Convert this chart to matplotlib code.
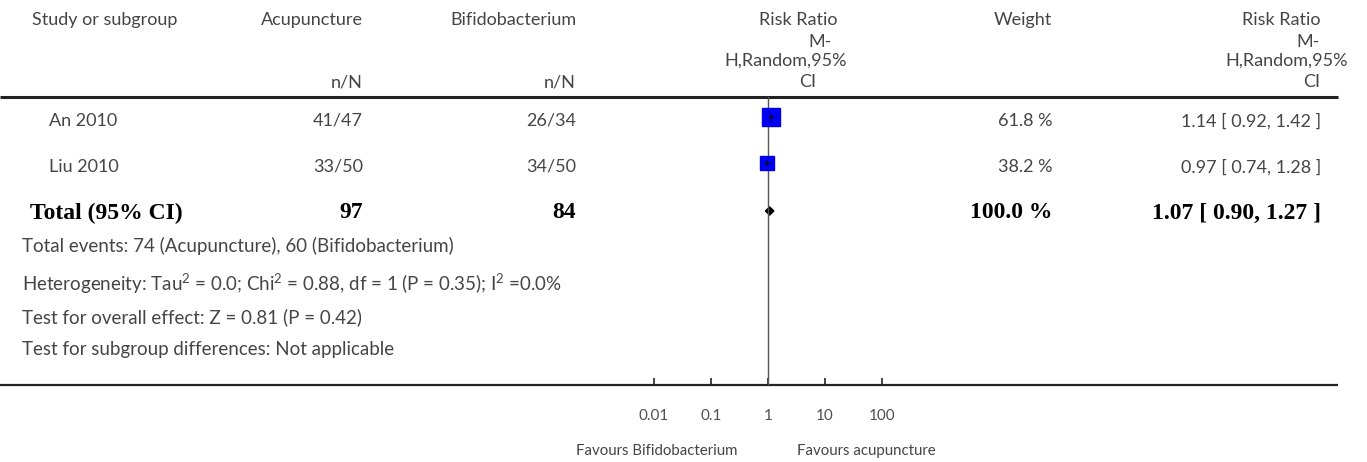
import matplotlib
matplotlib.use('Agg')
import matplotlib.pyplot as plt
import numpy as np

plt.rcParams['mathtext.fontset'] = 'custom'
plt.rcParams['mathtext.rm'] = 'Lato'
plt.rcParams['mathtext.default'] = 'rm'

# ---- data ----
studies = ['An 2010', 'Liu 2010']
acu_events = [41, 33]
acu_total = [47, 50]
bif_events = [26, 34]
bif_total = [34, 50]
weights = [61.8, 38.2]
rr = [1.14, 0.97]
rr_lo = [0.92, 0.74]
rr_hi = [1.42, 1.28]

tot_acu, tot_bif = 97, 84
tot_rr, tot_lo, tot_hi = 1.07, 0.90, 1.27
tot_weight = 100.0

footer = [
    'Total events: 74 (Acupuncture), 60 (Bifidobacterium)',
    'Heterogeneity: Tau$^2$ = 0.0; Chi$^2$ = 0.88, df = 1 (P = 0.35); I$^2$ =0.0%',
    'Test for overall effect: Z = 0.81 (P = 0.42)',
    'Test for subgroup differences: Not applicable',
]
ticks = [0.01, 0.1, 1, 10, 100]
tick_labels = ['0.01', '0.1', '1', '10', '100']

# ---- layout (pixels) ----
W, H = 1367, 462
SANS = 'Lato'
SERIF = 'Liberation Serif'
C_TXT = '#454545'
FS = 13
FS_B = 17
row_y = [117, 163]
tot_y = 211
foot_y = [246, 284, 317, 349]
TOP, BOT = 97, 385
X_ACU, X_BIF, X_W, X_RR = 363, 576, 1052, 1321

fig = plt.figure(figsize=(W / 100, H / 100), dpi=100)
ax = fig.add_axes([0, 0, 1, 1])
ax.set_xlim(0, W)
ax.set_ylim(H, 0)
ax.axis('off')

def t(x, y, s, ha='left', bold=False, size=None, color=C_TXT):
    if bold:
        ax.text(x, y, s, ha=ha, va='center', fontsize=size or FS_B,
                family=SERIF, fontweight='bold', color='black')
    else:
        ax.text(x, y, s, ha=ha, va='center', fontsize=size or FS,
                family=SANS, color=color)

# header
t(32, 20, 'Study or subgroup')
t(X_ACU, 20, 'Acupuncture', ha='right')
t(X_BIF, 20, 'Bifidobacterium', ha='right')
t(X_ACU, 82, 'n/N', ha='right')
t(X_BIF, 82, 'n/N', ha='right')
t(798, 20, 'Risk Ratio', ha='center')
t(820, 42, 'M-', ha='center')
t(786, 61, 'H,Random,95%', ha='center')
t(808, 82, 'CI', ha='center')
t(X_W, 20, 'Weight', ha='right')
t(1321, 20, 'Risk Ratio', ha='right')
t(1320, 42, 'M-', ha='right')
t(1348, 61, 'H,Random,95%', ha='right')
t(1320, 82, 'CI', ha='right')

ax.plot([0, 1338], [TOP, TOP], color='#222222', lw=2.2, solid_capstyle='butt')
ax.plot([0, 1338], [BOT, BOT], color='#222222', lw=1.6, solid_capstyle='butt')

# study rows
for i, name in enumerate(studies):
    y = row_y[i] + 4
    t(49, y, name)
    t(X_ACU, y, f'{acu_events[i]}/{acu_total[i]}', ha='right')
    t(X_BIF, y, f'{bif_events[i]}/{bif_total[i]}', ha='right')
    t(X_W, y, f'{weights[i]:.1f} %', ha='right')
    t(X_RR, y, f'{rr[i]:.2f} [ {rr_lo[i]:.2f}, {rr_hi[i]:.2f} ]', ha='right')

# total row
t(30, tot_y + 2, 'Total (95% CI)', bold=True)
t(X_ACU, tot_y + 2, str(tot_acu), ha='right', bold=True)
t(X_BIF, tot_y + 2, str(tot_bif), ha='right', bold=True)
t(X_W, tot_y + 2, f'{tot_weight:.1f} %', ha='right', bold=True)
t(X_RR, tot_y + 2, f'{tot_rr:.2f} [ {tot_lo:.2f}, {tot_hi:.2f} ]', ha='right', bold=True)

for y, s in zip(foot_y, footer):
    t(22, y, s, size=13.5)

# forest panel: 1 at x=768, 57 px per decade
x_left, x_right = 768 - 3 * 57, 768 + 3 * 57
fx = fig.add_axes([x_left / W, (H - BOT) / H, (x_right - x_left) / W, (BOT - TOP) / H])
fx.set_xscale('log')
fx.set_xlim(1e-3, 1e3)
fx.set_ylim(BOT, TOP)
fx.patch.set_visible(False)
for sp in fx.spines.values():
    sp.set_visible(False)
fx.axvline(1, color='#555555', lw=1.0)

for i in range(len(studies)):
    fx.hlines(row_y[i], rr_lo[i], rr_hi[i], color='black', lw=1)
    fx.plot(rr[i], row_y[i], marker='s', ms=1.654 * np.sqrt(weights[i]),
            color='#0000ee', mec='#0000ee', ls='none')
    fx.plot(rr[i], row_y[i], marker='+', ms=4, color='black', mew=0.8)

fx.fill([tot_lo, tot_rr, tot_hi, tot_rr], [tot_y, tot_y - 4, tot_y, tot_y + 4],
        color='black')

fx.set_yticks([])
fx.set_xticks(ticks)
fx.set_xticklabels(tick_labels)
fx.minorticks_off()
fx.tick_params(axis='x', direction='in', length=5, width=1.2, color='#222222',
               pad=17, labelsize=11, labelcolor='#505050')
for lab in fx.get_xticklabels():
    lab.set_family(SANS)

t(657, 451, 'Favours Bifidobacterium', ha='center', size=10.8)
t(866, 451, 'Favours acupuncture', ha='center', size=10.8)

fig.savefig('out.png', dpi=100, facecolor='white')
